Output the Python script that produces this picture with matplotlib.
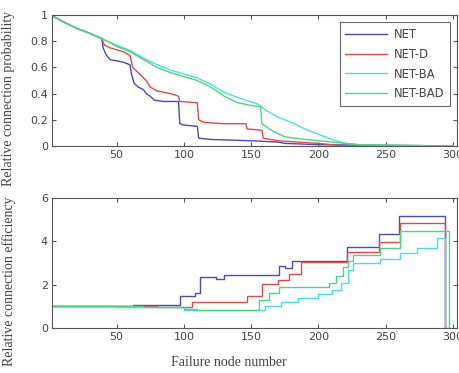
import matplotlib
matplotlib.use('Agg')
import matplotlib.pyplot as plt

# ---- data ----
labels = ['NET', 'NET-D', 'NET-BA', 'NET-BAD']
colors = ['#4848c8', '#e84848', '#48e0e0', '#48d880']

# top: relative connection probability
p_net_x = [1, 10, 20, 30, 39, 40, 42, 45, 55, 60, 61, 63, 66, 70, 72, 75, 78, 85, 96, 97, 100, 110, 111, 120, 150, 170, 175, 200, 300]
p_net_y = [1, .95, .9, .86, .82, .75, .7, .66, .64, .62, .55, .48, .45, .43, .4, .38, .35, .34, .34, .17, .16, .15, .06, .05, .04, .03, .02, .01, 0]
p_netd_x = [1, 10, 20, 30, 39, 41, 45, 55, 60, 62, 67, 72, 75, 80, 90, 96, 97, 110, 111, 115, 130, 146, 147, 158, 159, 170, 200, 220, 300]
p_netd_y = [1, .95, .9, .86, .82, .77, .75, .72, .69, .6, .55, .5, .45, .42, .4, .38, .34, .33, .2, .18, .17, .17, .13, .12, .06, .04, .02, 0, 0]
p_netba_x = [1, 10, 20, 30, 39, 45, 50, 60, 70, 80, 90, 100, 110, 120, 130, 140, 155, 160, 170, 180, 190, 200, 210, 220, 230, 300]
p_netba_y = [1, .95, .9, .86, .82, .79, .77, .73, .67, .62, .58, .55, .52, .47, .41, .37, .32, .28, .22, .18, .13, .09, .05, .02, .01, 0]
p_netbad_x = [1, 10, 20, 30, 39, 45, 50, 60, 70, 80, 90, 100, 110, 120, 130, 140, 150, 157, 158, 165, 175, 190, 210, 230, 260, 300]
p_netbad_y = [1, .95, .9, .86, .82, .79, .76, .72, .66, .6, .56, .53, .5, .45, .38, .33, .31, .3, .17, .12, .07, .05, .03, .01, .005, 0]

# bottom: relative connection efficiency (step levels)
e_net_x = [1, 62, 97, 108, 112, 124, 130, 171, 175, 180, 221, 245, 260, 294, 295]
e_net_y = [1.0, 1.08, 1.47, 1.6, 2.35, 2.28, 2.45, 2.85, 2.75, 3.1, 3.75, 4.33, 5.16, 0, 0]
e_netd_x = [1, 80, 100, 106, 147, 158, 170, 178, 187, 221, 245, 261, 294, 295]
e_netd_y = [1.0, 0.98, 0.95, 1.2, 1.5, 2.05, 2.2, 2.5, 3.05, 3.5, 3.98, 4.83, 0, 0]
e_netba_x = [1, 50, 100, 160, 172, 185, 200, 210, 217, 222, 226, 246, 261, 273, 288, 294, 295]
e_netba_y = [1.0, 0.95, 0.85, 1.0, 1.2, 1.4, 1.55, 1.75, 2.1, 2.7, 3.0, 3.2, 3.45, 3.7, 4.15, 0, 0]
e_netbad_x = [1, 70, 100, 110, 156, 163, 171, 208, 213, 218, 222, 226, 246, 261, 297, 298]
e_netbad_y = [1.0, 0.98, 0.9, 0.85, 1.3, 1.6, 1.88, 2.1, 2.4, 2.8, 3.1, 3.36, 3.7, 4.5, 0, 0]

prob = [(p_net_x, p_net_y), (p_netd_x, p_netd_y), (p_netba_x, p_netba_y), (p_netbad_x, p_netbad_y)]
eff = [(e_net_x, e_net_y), (e_netd_x, e_netd_y), (e_netba_x, e_netba_y), (e_netbad_x, e_netbad_y)]

fig = plt.figure(figsize=(4.59, 3.73), dpi=100)
ax1 = fig.add_axes([52/459, 1-146/373, 405/459, 131/373])
ax2 = fig.add_axes([52/459, 1-328/373, 405/459, 130/373])

for (x, y), c, lab in zip(prob, colors, labels):
    ax1.plot(x, y, color=c, lw=1.0, label=lab)
for (x, y), c in zip(eff, colors):
    ax2.step(x, y, where='post', color=c, lw=1.0)

for ax in (ax1, ax2):
    ax.set_xlim(2, 303)
    ax.set_xticks([50, 100, 150, 200, 250, 300])
    ax.tick_params(direction='in', top=True, right=True, length=3, labelsize=8,
                   colors='#555555', labelcolor='#444444', pad=3)
    for s in ax.spines.values():
        s.set_color('#555555')
        s.set_linewidth(0.8)

ax1.set_ylim(0, 1)
ax1.set_yticks([0, 0.2, 0.4, 0.6, 0.8, 1])
ax1.set_yticklabels(['0', '0.2', '0.4', '0.6', '0.8', '1'])
ax2.set_ylim(0, 6)
ax2.set_yticks([0, 2, 4, 6])

leg = ax1.legend(loc='upper right', fontsize=8.3, frameon=True, fancybox=False,
                 edgecolor='#444444', borderpad=0.5, handlelength=3.6,
                 labelspacing=0.6, borderaxespad=0.6, handletextpad=0.6)
leg.get_frame().set_linewidth(0.8)
for t in leg.get_texts():
    t.set_color('#444444')

serif = 'Liberation Serif'
fig.text(229/459, 1-362/373, 'Failure node number', family=serif, fontsize=10,
         ha='center', va='center', color='#444444')
fig.text(9/459, 1-98/373, 'Relative connection probability', family=serif, fontsize=10,
         rotation=90, ha='center', va='center', color='#444444')
fig.text(9/459, 1-281/373, 'Relative connection efficiency', family=serif, fontsize=10,
         rotation=90, ha='center', va='center', color='#444444')

fig.savefig('out.png', dpi=100)
